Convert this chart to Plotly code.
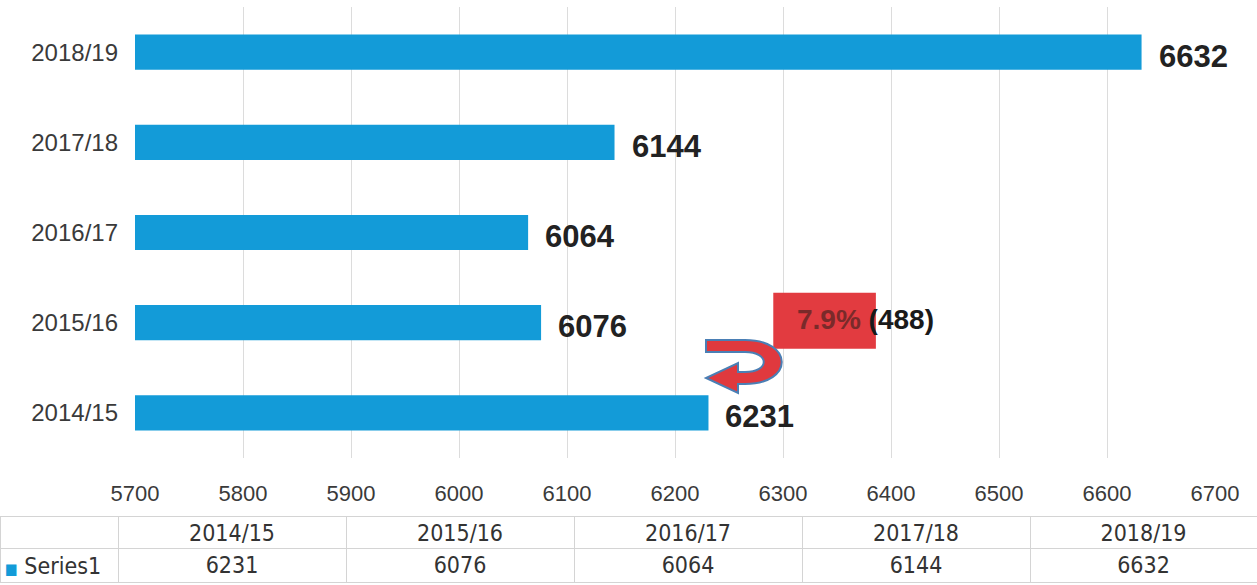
import plotly.graph_objects as go

# Annual totals by season
seasons = ["2014/15", "2015/16", "2016/17", "2017/18", "2018/19"]
totals = [6231, 6076, 6064, 6144, 6632]
series_name = "Series1"
x_ticks = [5700, 5800, 5900, 6000, 6100, 6200, 6300, 6400, 6500, 6600, 6700]

BAR_BLUE = "#139bd8"
W, H = 1257, 585
TABLE_FONT = "Liberation Sans Narrow, DejaVu Sans Condensed, Arial Narrow, sans-serif"

# year-on-year change for the latest season
change = totals[-1] - totals[-2]
change_pct = change / totals[-2] * 100

fig = go.Figure()

fig.add_trace(go.Bar(
    y=seasons,
    x=totals,
    orientation="h",
    marker=dict(color=BAR_BLUE, line=dict(width=0)),
    width=0.39,
    hoverinfo="x+y",
    showlegend=False,
))

# value labels at the end of each bar
annotations = []
for s, v in zip(seasons, totals):
    annotations.append(dict(
        x=v, y=s, xref="x", yref="y",
        text=f"{v}", showarrow=False,
        xanchor="left", yanchor="middle", xshift=15, yshift=-4,
        font=dict(family="Liberation Sans, Arial, sans-serif", size=31,
                  color="#222222", weight="bold"),
    ))

# change call-out
annotations.append(dict(
    x=6311, y=seasons[1], xref="x", yref="y",
    text=f"<span style='color:#7a2a2a'>{change_pct:.1f}%</span> ({change})",
    showarrow=False, xanchor="left", yanchor="middle", yshift=3,
    font=dict(family="Liberation Sans, Arial, sans-serif", size=28,
              color="#1a1a1a", weight="bold"),
))


def px(x, y):
    """Convert pixel position on the page to paper units."""
    return x / W, 1 - y / H


# legend key with the series name, in the first column of the data table
kx, ky = px(3, 566)
annotations.append(dict(
    x=kx, y=ky, xref="paper", yref="paper",
    text=f"<span style='color:{BAR_BLUE};font-size:15px'>■</span> {series_name}",
    showarrow=False, xanchor="left", yanchor="middle",
    font=dict(family=TABLE_FONT, size=23, color="#333333"),
))


def path_from(points):
    parts = []
    for cmd, pts in points:
        coords = " ".join(f"{px(a, b)[0]:.5f},{px(a, b)[1]:.5f}" for a, b in pts)
        parts.append(f"{cmd} {coords}" if coords else cmd)
    return " ".join(parts)


arrow_path = path_from([
    ("M", [(706, 340)]),
    ("L", [(745, 340)]),
    ("C", [(794, 340), (794, 384), (745, 384)]),
    ("L", [(738, 384)]),
    ("L", [(738, 393)]),
    ("L", [(706, 378)]),
    ("L", [(738, 363)]),
    ("L", [(738, 372)]),
    ("L", [(745, 372)]),
    ("C", [(770, 372), (770, 352), (745, 352)]),
    ("L", [(706, 352)]),
    ("Z", []),
])

shapes = [
    dict(type="rect", xref="x", yref="y",
         x0=6291, x1=6386, y0=0.71, y1=1.333,
         fillcolor="#e23b40", line=dict(width=0), layer="above"),
    dict(type="path", xref="paper", yref="paper", path=arrow_path,
         fillcolor="#e0393e", line=dict(color="#4a7fb5", width=2),
         layer="above"),
]

# data table beneath the chart
fig.add_trace(go.Table(
    domain=dict(x=[0, 1], y=[0, (H - 516) / H]),
    columnwidth=[118, 228, 228, 228, 228, 227],
    header=dict(
        values=[""] + seasons,
        fill_color="white",
        line_color="#d4d4d4",
        align="center",
        height=32,
        font=dict(family=TABLE_FONT, size=23, color="#333333"),
    ),
    cells=dict(
        values=[[""]] + [[v] for v in totals],
        fill_color="white",
        line_color="#d4d4d4",
        align="center",
        height=34,
        font=dict(family=TABLE_FONT, size=23, color="#333333"),
    ),
))

fig.update_layout(
    width=W, height=H,
    margin=dict(l=0, r=0, t=0, b=0),
    paper_bgcolor="white",
    plot_bgcolor="white",
    annotations=annotations,
    shapes=shapes,
    xaxis=dict(
        domain=[135 / W, 1215 / W],
        range=[5700, 6700],
        tickvals=x_ticks,
        automargin=False,
        showgrid=True, gridcolor="#dcdcdc", gridwidth=1,
        zeroline=False, showline=False,
        ticklabelstandoff=20,
        tickfont=dict(family="Liberation Sans, Arial, sans-serif", size=22, color="#3a3a3a"),
        fixedrange=True,
    ),
    yaxis=dict(
        domain=[(H - 458) / H, (H - 7) / H],
        type="category",
        categoryorder="array", categoryarray=seasons,
        automargin=False,
        showgrid=False, zeroline=False, showline=False,
        ticklabelstandoff=16,
        tickfont=dict(family="Liberation Sans, Arial, sans-serif", size=24, color="#3a3a3a"),
        fixedrange=True,
    ),
)

fig.write_html("out.html")
